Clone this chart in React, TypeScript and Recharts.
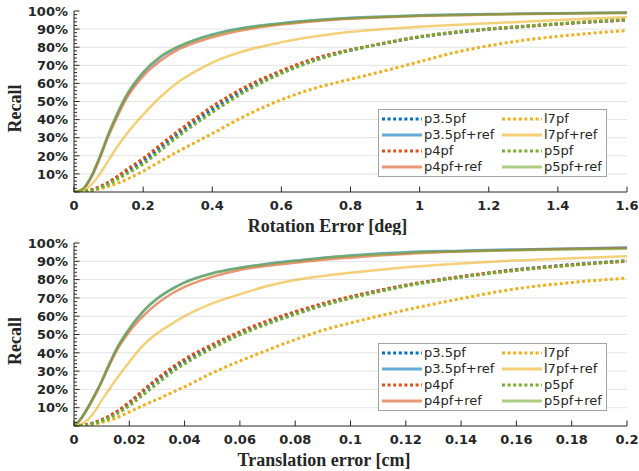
import React from 'react';
import { LineChart, Line, XAxis, YAxis, CartesianGrid, Legend, Label } from 'recharts';

// ---------- data: rotation error panel ----------
const ROT_X = [0, 0.025, 0.05, 0.075, 0.1, 0.125, 0.15, 0.2, 0.25, 0.3, 0.35, 0.4, 0.5, 0.6, 0.7, 0.8, 0.9, 1.0, 1.1, 1.2, 1.3, 1.4, 1.5, 1.6];
const ROT_P35 = [0, 0.3, 1.1, 2.7, 5, 8, 11, 17, 24.5, 32, 39, 45.5, 57, 66, 73.2, 78.3, 82.2, 85.6, 88, 89.9, 91.4, 92.8, 94, 95];
const ROT_P35REF = [0, 1.5, 8.5, 19.5, 32, 43, 52.5, 65.8, 74.5, 80, 84, 87, 91, 93.3, 95, 96.3, 97, 97.6, 98, 98.3, 98.6, 98.8, 99, 99.2];
const ROT_P4 = [0, 0.3, 1.2, 3, 5.5, 8.5, 12, 18.5, 26, 33.5, 40.5, 47.2, 58.5, 67, 74, 78.6, 82.3, 85.8, 88.2, 90, 91.4, 92.8, 94, 95];
const ROT_P4REF = [0, 1.4, 8, 18.8, 31, 41.5, 51, 64, 72.5, 78.5, 82.5, 85.5, 89.8, 92.5, 94.4, 95.7, 96.6, 97.2, 97.6, 98, 98.3, 98.5, 98.7, 98.9];
const ROT_L7 = [0, 0.2, 0.8, 1.8, 3.2, 4.8, 6.8, 11.5, 17, 22.3, 27.3, 32.3, 42.5, 51, 57.5, 62.3, 67, 72, 77, 80.8, 83.8, 86, 87.8, 89.2];
const ROT_L7REF = [0, 0.8, 4, 10, 17.5, 25, 31.5, 42.7, 52.5, 60.5, 66.5, 71.5, 78.3, 82.7, 86, 88.5, 90, 91.3, 92.3, 93.2, 94.1, 95, 95.8, 96.5];
const ROT_P5 = [0, 0.2, 0.9, 2.3, 4.3, 7, 9.8, 15.5, 23, 30.5, 37.5, 44, 56, 65.5, 72.8, 78.3, 82.3, 85.8, 88.3, 90.1, 91.6, 93, 94.2, 95.2];
const ROT_P5REF = [0, 1.6, 8.8, 19.8, 32.3, 43.3, 53, 66.3, 75, 80.3, 84, 86.8, 90.8, 93, 94.8, 96, 96.8, 97.4, 97.8, 98.1, 98.4, 98.6, 98.8, 99];

// ---------- data: translation error panel ----------
const TRA_X = [0, 0.0025, 0.005, 0.0075, 0.01, 0.0125, 0.015, 0.02, 0.025, 0.03, 0.035, 0.04, 0.05, 0.06, 0.07, 0.08, 0.09, 0.1, 0.11, 0.12, 0.14, 0.16, 0.18, 0.2];
const TRA_P35 = [0, 0.3, 0.9, 1.9, 3.3, 5, 7.2, 12.5, 19, 25, 30.5, 35.5, 43.5, 50.5, 56.5, 61.8, 66.3, 70.3, 73.8, 76.8, 81.5, 85.5, 88.2, 90.3];
const TRA_P35REF = [0, 4, 10, 17, 24.5, 33, 41, 53, 62.5, 69.5, 74.5, 78.5, 83.5, 86.5, 88.7, 90.4, 92, 93.2, 94.2, 95, 95.8, 96.5, 97, 97.5];
const TRA_P4 = [0, 0.3, 1, 2, 3.5, 5.3, 7.5, 13, 19.5, 25.8, 31.5, 36.5, 44.5, 51.5, 57.5, 62.5, 67, 70.7, 74, 77, 81.7, 85.3, 88, 90];
const TRA_P4REF = [0, 3.8, 9.7, 16.5, 24, 32.3, 40, 51.5, 60, 66.8, 72, 76, 81.5, 85.3, 87.5, 89.2, 90.8, 92, 93.1, 94, 95.3, 96.2, 96.8, 97.3];
const TRA_L7 = [0, 0.1, 0.4, 1, 2, 3, 4.3, 7.7, 11.2, 14.5, 18, 21.4, 29, 35.5, 41.5, 47.2, 52.3, 56.3, 60, 63.4, 69.6, 75, 78.4, 80.8];
const TRA_L7REF = [0, 1, 3.5, 8, 14, 19.5, 25, 35, 44, 50.5, 55.5, 60, 67, 72, 76.5, 79.8, 82, 83.7, 85.3, 86.7, 88.8, 90.5, 91.7, 92.7];
const TRA_P5 = [0, 0.2, 0.7, 1.5, 2.7, 4.2, 6.2, 11, 17, 23, 29, 34, 42.5, 49.8, 55.8, 61, 65.8, 69.8, 73.3, 76.5, 81.3, 85, 87.8, 90.2];
const TRA_P5REF = [0, 4, 10, 17, 24.5, 33, 41, 53.3, 62.8, 69.5, 74.5, 78.3, 83.3, 86.3, 88.5, 90.2, 91.8, 93, 93.9, 94.6, 95.5, 96.1, 96.5, 96.9];

// ---------- ticks ----------
const ROT_TICKS = [0, 0.2, 0.4, 0.6, 0.8, 1, 1.2, 1.4, 1.6];
const TRA_TICKS = [0, 0.02, 0.04, 0.06, 0.08, 0.1, 0.12, 0.14, 0.16, 0.18, 0.2];
const Y_GRID = [10, 20, 30, 40, 50, 60, 70, 80, 90];
const Y_MINOR_TICKS = Array.from({ length: 51 }, (_, i) => i * 2);

// ---------- series ----------
const SERIES = [
  { key: 'p35', name: 'p3.5pf', color: '#0072BD', dotted: true },
  { key: 'p35r', name: 'p3.5pf+ref', color: '#0072BD', dotted: false },
  { key: 'p4', name: 'p4pf', color: '#D95319', dotted: true },
  { key: 'p4r', name: 'p4pf+ref', color: '#D95319', dotted: false },
  { key: 'l7', name: 'l7pf', color: '#EDB120', dotted: true },
  { key: 'l7r', name: 'l7pf+ref', color: '#EDB120', dotted: false },
  { key: 'p5', name: 'p5pf', color: '#77AC30', dotted: true },
  { key: 'p5r', name: 'p5pf+ref', color: '#77AC30', dotted: false },
];
const LEGEND_ORDER = ['p35', 'l7', 'p35r', 'l7r', 'p4', 'p5', 'p4r', 'p5r'];

const ROT_DATA = ROT_X.map((x, i) => ({
  x, p35: ROT_P35[i], p35r: ROT_P35REF[i], p4: ROT_P4[i], p4r: ROT_P4REF[i],
  l7: ROT_L7[i], l7r: ROT_L7REF[i], p5: ROT_P5[i], p5r: ROT_P5REF[i],
}));
const TRA_DATA = TRA_X.map((x, i) => ({
  x, p35: TRA_P35[i], p35r: TRA_P35REF[i], p4: TRA_P4[i], p4r: TRA_P4REF[i],
  l7: TRA_L7[i], l7r: TRA_L7REF[i], p5: TRA_P5[i], p5r: TRA_P5REF[i],
}));

const AXIS = '#262626';
const TICK_FONT = { fontFamily: '"DejaVu Sans", sans-serif', fontWeight: 'bold' as const, fontSize: 13, fill: AXIS };
const LABEL_FONT = { fontFamily: '"Liberation Serif", serif', fontWeight: 'bold' as const, fontSize: 18, fill: AXIS };
const DASH = '3 2.6';

const fmt = (v: number) => String(Math.round(v * 10000) / 10000);

const BottomTick = (props: any) => {
  const { x, y, payload } = props;
  return (
    <g>
      <line x1={x} y1={y} x2={x} y2={y - 5.5} stroke={AXIS} strokeWidth={1} />
      <text x={x} y={y + 17.5} textAnchor="middle" {...TICK_FONT}>{fmt(payload.value)}</text>
    </g>
  );
};
const TopTick = (props: any) => {
  const { x, y } = props;
  return <line x1={x} y1={y} x2={x} y2={y + 5.5} stroke={AXIS} strokeWidth={1} />;
};
const LeftTick = (props: any) => {
  const { x, y, payload } = props;
  const v = payload.value;
  const major = v % 10 === 0;
  return (
    <g>
      <line x1={x} y1={y} x2={x + (major ? 5.5 : 3)} y2={y} stroke={AXIS} strokeWidth={1} />
      {major && v > 0 ? (
        <text x={x - 6} y={y + 4.7} textAnchor="end" {...TICK_FONT}>{v + '%'}</text>
      ) : null}
    </g>
  );
};
const RightTick = (props: any) => {
  const { x, y, payload } = props;
  const major = payload.value % 10 === 0;
  return <line x1={x} y1={y} x2={x - (major ? 5.5 : 3)} y2={y} stroke={AXIS} strokeWidth={1} />;
};

const renderLegend = () => (
  <div
    style={{
      width: 229, height: 68, boxSizing: 'border-box', border: '1px solid #a3a3a3',
      background: '#ffffff', position: 'relative', fontFamily: '"DejaVu Sans", sans-serif',
      fontSize: 13, color: AXIS,
    }}
  >
    {LEGEND_ORDER.map((k, i) => {
      const s = SERIES.find((q) => q.key === k)!;
      const row = Math.floor(i / 2);
      const col = i % 2;
      return (
        <div
          key={k}
          style={{
            position: 'absolute', left: col ? 123 : 3, top: 1 + row * 16, height: 16,
            display: 'flex', alignItems: 'center', whiteSpace: 'nowrap',
          }}
        >
          <svg width={40} height={6} style={{ display: 'block' }}>
            <line
              x1={0} y1={3} x2={40} y2={3} stroke={s.color}
              strokeWidth={3} strokeDasharray={s.dotted ? DASH : undefined}
              strokeOpacity={s.dotted ? 1 : 0.6}
            />
          </svg>
          <span style={{ marginLeft: 2, lineHeight: '16px' }}>{s.name}</span>
        </div>
      );
    })}
  </div>
);

type PanelProps = {
  data: any[];
  ticks: number[];
  xMax: number;
  xLabel: string;
  height: number;
  marginTop: number;
  xAxisHeight: number;
  legendTop: number;
  xLabelX: number;
  xLabelY: number;
  yLabelY: number;
};

const Panel = (p: PanelProps) => (
  <LineChart
    width={639}
    height={p.height}
    data={p.data}
    margin={{ top: p.marginTop, right: 12, bottom: 0, left: 0 }}
  >
    <CartesianGrid vertical={false} horizontalValues={Y_GRID} stroke="#e3e3e3" strokeWidth={1} />
    <XAxis
      dataKey="x"
      type="number"
      domain={[0, p.xMax]}
      ticks={p.ticks}
      interval={0}
      height={p.xAxisHeight}
      tickSize={0}
      tickMargin={0}
      tickLine={false}
      axisLine={{ stroke: AXIS, strokeWidth: 1 }}
      tick={BottomTick}
      allowDataOverflow
    >
      <Label
        content={() => (
          <text x={p.xLabelX} y={p.xLabelY} textAnchor="middle" {...LABEL_FONT}>{p.xLabel}</text>
        )}
      />
    </XAxis>
    <XAxis
      xAxisId="top"
      orientation="top"
      type="number"
      dataKey="x"
      domain={[0, p.xMax]}
      ticks={p.ticks}
      interval={0}
      height={0}
      tickSize={0}
      tickMargin={0}
      tickLine={false}
      axisLine={{ stroke: AXIS, strokeWidth: 1 }}
      tick={TopTick}
      allowDataOverflow
    />
    <YAxis
      type="number"
      domain={[0, 100]}
      ticks={Y_MINOR_TICKS}
      interval={0}
      width={74}
      tickSize={0}
      tickMargin={0}
      tickLine={false}
      axisLine={{ stroke: AXIS, strokeWidth: 1 }}
      tick={LeftTick}
      allowDataOverflow
    >
      <Label
        content={() => (
          <text
            x={0}
            y={0}
            transform={`translate(20.5, ${p.yLabelY}) rotate(-90)`}
            textAnchor="middle"
            {...LABEL_FONT}
          >
            Recall
          </text>
        )}
      />
    </YAxis>
    <YAxis
      yAxisId="right"
      orientation="right"
      type="number"
      domain={[0, 100]}
      ticks={Y_MINOR_TICKS}
      interval={0}
      width={0}
      tickSize={0}
      tickMargin={0}
      tickLine={false}
      axisLine={{ stroke: AXIS, strokeWidth: 1 }}
      tick={RightTick}
      allowDataOverflow
    />
    {SERIES.map((s) => (
      <Line
        key={s.key}
        type="monotone"
        dataKey={s.key}
        name={s.name}
        stroke={s.color}
        strokeWidth={s.dotted ? 3 : 2.5}
        strokeDasharray={s.dotted ? DASH : undefined}
        strokeOpacity={s.dotted ? 1 : 0.6}
        strokeLinecap="butt"
        dot={false}
        activeDot={false}
        isAnimationActive={false}
      />
    ))}
    <Legend
      layout="horizontal"
      verticalAlign="middle"
      align="center"
      content={renderLegend}
      wrapperStyle={{ position: 'absolute', left: 378, top: p.legendTop, width: 229, height: 68, margin: 0, padding: 0 }}
    />
  </LineChart>
);

export default function App() {
  return (
    <div style={{ position: 'absolute', left: 0, top: 0, width: 639, height: 471, background: '#ffffff' }}>
      <div style={{ position: 'absolute', left: 0, top: 0 }}>
        <Panel
          data={ROT_DATA}
          ticks={ROT_TICKS}
          xMax={1.6}
          xLabel="Rotation Error [deg]"
          height={235}
          marginTop={11}
          xAxisHeight={43}
          legendTop={109}
          xLabelX={327.5}
          xLabelY={231.5}
          yLabelY={108.5}
        />
      </div>
      <div style={{ position: 'absolute', left: 0, top: 235 }}>
        <Panel
          data={TRA_DATA}
          ticks={TRA_TICKS}
          xMax={0.2}
          xLabel="Translation error [cm]"
          height={236}
          marginTop={8}
          xAxisHeight={45}
          legendTop={107.7}
          xLabelX={324}
          xLabelY={230.5}
          yLabelY={106}
        />
      </div>
    </div>
  );
}
